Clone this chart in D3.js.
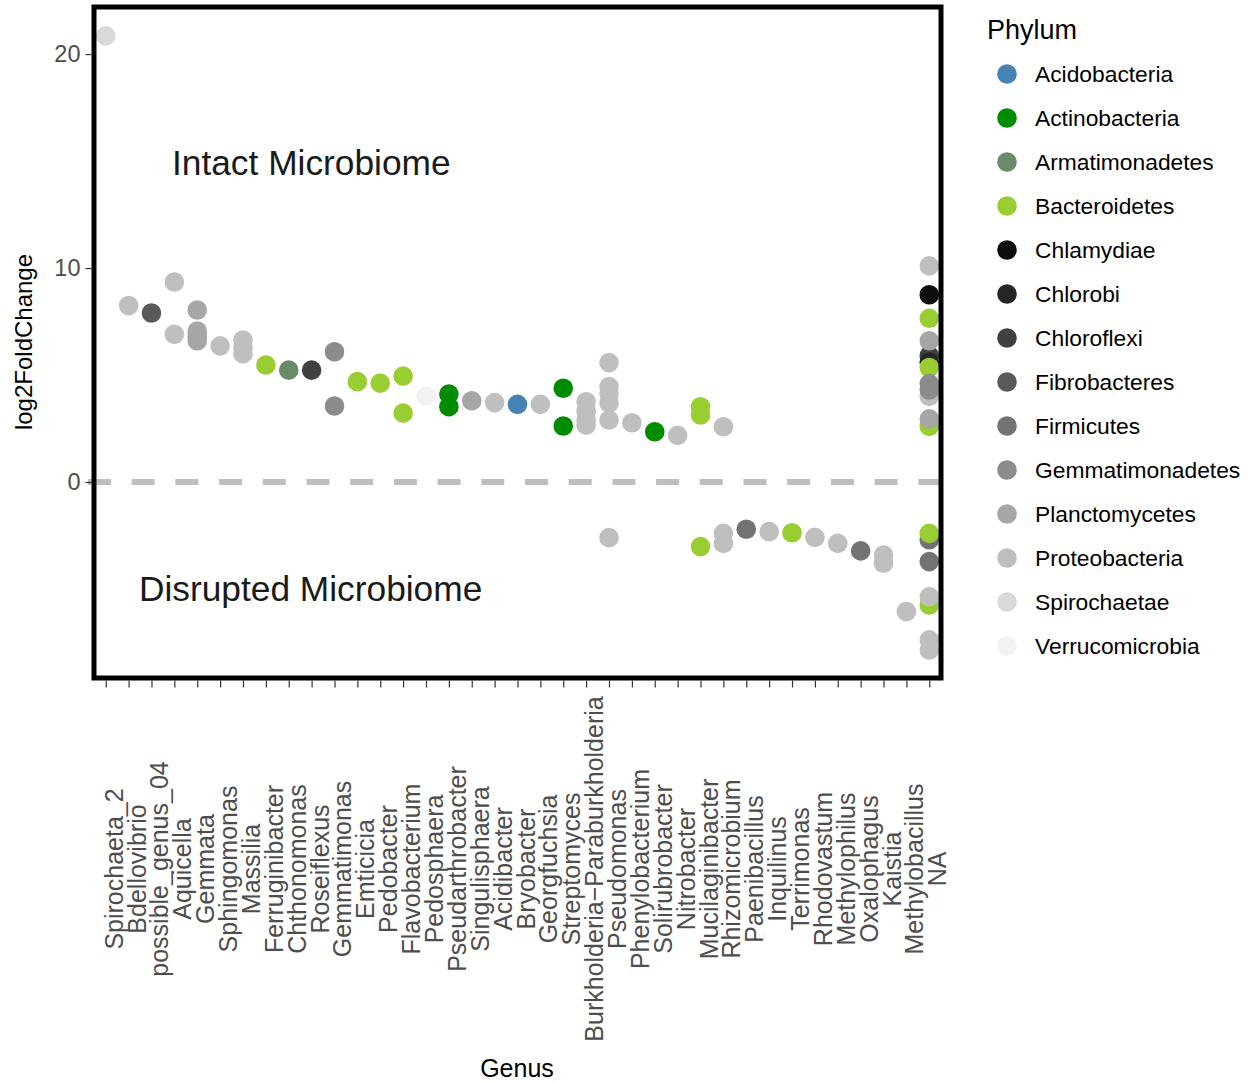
<!DOCTYPE html>
<html>
<head>
<meta charset="utf-8">
<script src="https://cdn.jsdelivr.net/npm/d3@7/dist/d3.min.js"></script>
<style>
  html, body { margin: 0; padding: 0; background: #fff; }
  svg { display: block; font-family: "Liberation Sans", Arial, sans-serif; }
</style>
</head>
<body>
<svg id="chart" width="1250" height="1082"></svg>
<script>
// ---------- data ----------
const genera = ["Spirochaeta_2","Bdellovibrio","possible_genus_04","Aquicella","Gemmata","Sphingomonas",
  "Massilia","Ferruginibacter","Chthonomonas","Roseiflexus","Gemmatimonas","Emticicia","Pedobacter",
  "Flavobacterium","Pedosphaera","Pseudarthrobacter","Singulisphaera","Acidibacter","Bryobacter",
  "Georgfuchsia","Streptomyces","Burkholderia\u2212Paraburkholderia","Pseudomonas","Phenylobacterium",
  "Solirubrobacter","Nitrobacter","Mucilaginibacter","Rhizomicrobium","Paenibacillus","Inquilinus",
  "Terrimonas","Rhodovastum","Methylophilus","Oxalophagus","Kaistia","Methylobacillus","NA"];

const phyla = ["Acidobacteria","Actinobacteria","Armatimonadetes","Bacteroidetes","Chlamydiae","Chlorobi",
  "Chloroflexi","Fibrobacteres","Firmicutes","Gemmatimonadetes","Planctomycetes","Proteobacteria",
  "Spirochaetae","Verrucomicrobia"];

const phylumColors = ["#4682b4","#008b00","#698b69","#9acd32","#0d0d0d","#262626","#404040","#595959",
  "#737373","#8c8c8c","#a6a6a6","#bfbfbf","#d9d9d9","#f2f2f2"];

const yTicks = [0, 10, 20];

// [genus, log2FoldChange, phylum]
const points = [
  ["Spirochaeta_2", 20.85, "Spirochaetae"],
  ["Bdellovibrio", 8.25, "Proteobacteria"],
  ["possible_genus_04", 7.9, "Fibrobacteres"],
  ["Aquicella", 9.35, "Proteobacteria"],
  ["Aquicella", 6.9, "Proteobacteria"],
  ["Gemmata", 8.04, "Planctomycetes"],
  ["Gemmata", 7.05, "Planctomycetes"],
  ["Gemmata", 6.8, "Planctomycetes"],
  ["Gemmata", 6.6, "Planctomycetes"],
  ["Sphingomonas", 6.36, "Proteobacteria"],
  ["Massilia", 6.64, "Proteobacteria"],
  ["Massilia", 6.3, "Proteobacteria"],
  ["Massilia", 6.0, "Proteobacteria"],
  ["Ferruginibacter", 5.47, "Bacteroidetes"],
  ["Chthonomonas", 5.23, "Armatimonadetes"],
  ["Roseiflexus", 5.23, "Chloroflexi"],
  ["Gemmatimonas", 6.09, "Gemmatimonadetes"],
  ["Gemmatimonas", 3.55, "Gemmatimonadetes"],
  ["Emticicia", 4.69, "Bacteroidetes"],
  ["Pedobacter", 4.62, "Bacteroidetes"],
  ["Flavobacterium", 4.95, "Bacteroidetes"],
  ["Flavobacterium", 3.22, "Bacteroidetes"],
  ["Pedosphaera", 4.02, "Verrucomicrobia"],
  ["Pseudarthrobacter", 4.11, "Actinobacteria"],
  ["Pseudarthrobacter", 3.52, "Actinobacteria"],
  ["Singulisphaera", 3.8, "Planctomycetes"],
  ["Acidibacter", 3.71, "Proteobacteria"],
  ["Bryobacter", 3.63, "Acidobacteria"],
  ["Georgfuchsia", 3.63, "Proteobacteria"],
  ["Streptomyces", 4.38, "Actinobacteria"],
  ["Streptomyces", 2.62, "Actinobacteria"],
  ["Burkholderia\u2212Paraburkholderia", 3.75, "Proteobacteria"],
  ["Burkholderia\u2212Paraburkholderia", 3.3, "Proteobacteria"],
  ["Burkholderia\u2212Paraburkholderia", 2.9, "Proteobacteria"],
  ["Burkholderia\u2212Paraburkholderia", 2.66, "Proteobacteria"],
  ["Pseudomonas", 5.58, "Proteobacteria"],
  ["Pseudomonas", 4.46, "Proteobacteria"],
  ["Pseudomonas", 4.15, "Proteobacteria"],
  ["Pseudomonas", 3.69, "Proteobacteria"],
  ["Pseudomonas", 2.9, "Proteobacteria"],
  ["Pseudomonas", -2.6, "Proteobacteria"],
  ["Phenylobacterium", 2.77, "Proteobacteria"],
  ["Solirubrobacter", 2.35, "Actinobacteria"],
  ["Nitrobacter", 2.18, "Proteobacteria"],
  ["Mucilaginibacter", 3.52, "Bacteroidetes"],
  ["Mucilaginibacter", 3.13, "Bacteroidetes"],
  ["Mucilaginibacter", -3.02, "Bacteroidetes"],
  ["Rhizomicrobium", 2.58, "Proteobacteria"],
  ["Rhizomicrobium", -2.4, "Proteobacteria"],
  ["Rhizomicrobium", -2.87, "Proteobacteria"],
  ["Paenibacillus", -2.21, "Firmicutes"],
  ["Inquilinus", -2.32, "Proteobacteria"],
  ["Terrimonas", -2.37, "Bacteroidetes"],
  ["Rhodovastum", -2.59, "Proteobacteria"],
  ["Methylophilus", -2.87, "Proteobacteria"],
  ["Oxalophagus", -3.22, "Firmicutes"],
  ["Kaistia", -3.41, "Proteobacteria"],
  ["Kaistia", -3.8, "Proteobacteria"],
  ["Methylobacillus", -6.05, "Proteobacteria"],
  ["NA", 10.1, "Proteobacteria"],
  ["NA", 8.75, "Chlamydiae"],
  ["NA", 7.65, "Bacteroidetes"],
  ["NA", 5.9, "Chloroflexi"],
  ["NA", 5.6, "Chlorobi"],
  ["NA", 6.6, "Planctomycetes"],
  ["NA", 5.35, "Bacteroidetes"],
  ["NA", 4.0, "Proteobacteria"],
  ["NA", 4.3, "Gemmatimonadetes"],
  ["NA", 4.6, "Gemmatimonadetes"],
  ["NA", 2.6, "Bacteroidetes"],
  ["NA", 2.95, "Planctomycetes"],
  ["NA", -2.7, "Firmicutes"],
  ["NA", -2.4, "Bacteroidetes"],
  ["NA", -3.72, "Firmicutes"],
  ["NA", -5.75, "Bacteroidetes"],
  ["NA", -5.36, "Proteobacteria"],
  ["NA", -7.38, "Proteobacteria"],
  ["NA", -7.85, "Proteobacteria"]
];

// ---------- layout ----------
const svg = d3.select("#chart");
const panel = {left: 94, right: 941, top: 7, bottom: 678};
const font = '"Liberation Sans", Arial, sans-serif';

const x = d3.scalePoint().domain(genera).range([panel.left - 2, panel.right + 2]).padding(0.6);
const y = d3.scaleLinear().domain([-9.16, 22.2]).range([panel.bottom, panel.top]);
const color = d3.scaleOrdinal().domain(phyla).range(phylumColors);

svg.append("defs").append("clipPath").attr("id", "clip")
  .append("rect").attr("x", panel.left).attr("y", panel.top)
  .attr("width", panel.right - panel.left).attr("height", panel.bottom - panel.top);

// zero dashed line
svg.append("line")
  .attr("x1", 88).attr("x2", panel.right)
  .attr("y1", y(0)).attr("y2", y(0))
  .attr("stroke", "#bebebe").attr("stroke-width", 6)
  .attr("stroke-dasharray", "23,20.7");

// points
svg.append("g").attr("clip-path", "url(#clip)")
  .selectAll("circle").data(points).join("circle")
  .attr("cx", d => x(d[0]))
  .attr("cy", d => y(d[1]))
  .attr("r", 9.8)
  .attr("fill", d => color(d[2]));

// annotations
svg.append("text").attr("x", 172).attr("y", 175)
  .attr("font-size", 35.3).attr("fill", "#1a1a1a").text("Intact Microbiome");
svg.append("text").attr("x", 139).attr("y", 601)
  .attr("font-size", 35.3).attr("fill", "#1a1a1a").text("Disrupted Microbiome");

// panel border
svg.append("rect")
  .attr("x", panel.left).attr("y", panel.top)
  .attr("width", panel.right - panel.left).attr("height", panel.bottom - panel.top)
  .attr("fill", "none").attr("stroke", "#000").attr("stroke-width", 5);

// y axis
const yAxis = d3.axisLeft(y).tickValues(yTicks).tickSize(6).tickPadding(5);
const gy = svg.append("g").attr("transform", `translate(${panel.left - 2.5},0)`).call(yAxis);
gy.select(".domain").remove();
gy.selectAll(".tick line").attr("stroke", "#333").attr("stroke-width", 1.2);
gy.selectAll(".tick text").attr("font-family", font).attr("font-size", 23.5).attr("fill", "#4d4d4d");

// x axis
const xAxis = d3.axisBottom(x).tickSize(7).tickFormat("");
const gx = svg.append("g").attr("transform", `translate(0,${panel.bottom + 2.5})`).call(xAxis);
gx.select(".domain").remove();
gx.selectAll(".tick line").attr("stroke", "#333").attr("stroke-width", 1.2);

svg.append("g").selectAll("text").data(genera).join("text")
  .attr("transform", d => `translate(${x(d)},869) rotate(-90)`)
  .attr("text-anchor", "middle")
  .attr("dy", 17)
  .attr("font-size", 25)
  .attr("fill", "#4d4d4d")
  .text(d => d);

// axis titles
svg.append("text").attr("x", 517).attr("y", 1077).attr("text-anchor", "middle")
  .attr("font-size", 25).attr("fill", "#000").text("Genus");
svg.append("text").attr("transform", "translate(32,342) rotate(-90)").attr("text-anchor", "middle")
  .attr("font-size", 24).attr("fill", "#000").text("log2FoldChange");

// legend
const lg = svg.append("g");
lg.append("text").attr("x", 987).attr("y", 39).attr("font-size", 27).attr("fill", "#000").text("Phylum");
const items = lg.selectAll("g.item").data(phyla).join("g").attr("class", "item")
  .attr("transform", (d, i) => `translate(0,${74 + i * 44})`);
items.append("circle").attr("cx", 1007).attr("cy", 0).attr("r", 9.8).attr("fill", d => color(d));
items.append("text").attr("x", 1035).attr("y", 0).attr("dy", "0.35em")
  .attr("font-size", 22.8).attr("fill", "#000").text(d => d);
</script>
</body>
</html>
